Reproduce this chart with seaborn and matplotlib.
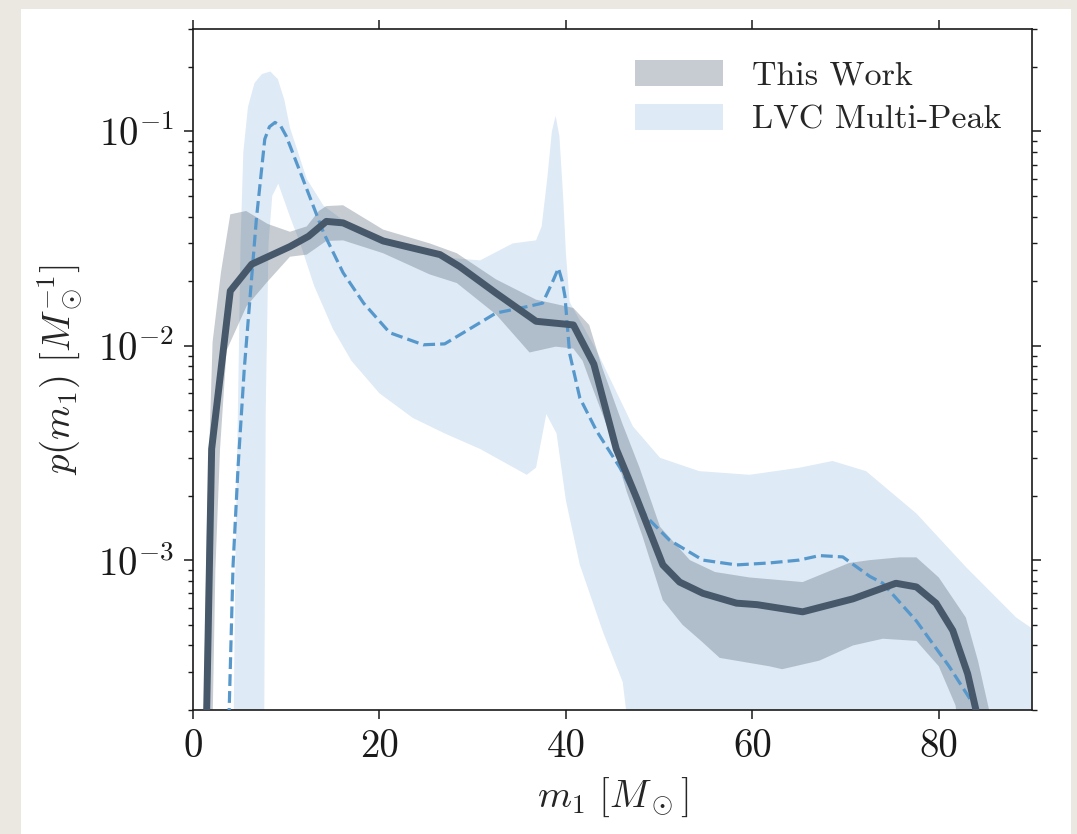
import numpy as np
import matplotlib
matplotlib.use("Agg")
import matplotlib.pyplot as plt
import seaborn as sns
from matplotlib.patches import Patch, Rectangle

# ---------------- data ----------------
# "This Work" median curve
tw_x = [1.4, 2.0, 4.0, 6.3, 10.4, 12.4, 14.3, 16.1, 20.4, 26.5, 28.6, 32.5, 36.8, 40.8,
        43.0, 45.4, 47.6, 50.4, 52.2, 54.7, 58.3, 60.5, 65.4, 70.8, 75.4, 77.6, 79.7,
        81.5, 83.1, 84.5]
tw_y = [1.4e-4, 3.3e-3, 0.018, 0.024, 0.029, 0.0324, 0.038, 0.0374, 0.0308, 0.0266, 0.0234,
        0.0176, 0.013, 0.0125, 0.0082, 3.3e-3, 1.94e-3, 9.5e-4, 7.9e-4, 7.0e-4, 6.3e-4,
        6.2e-4, 5.74e-4, 6.6e-4, 7.8e-4, 7.5e-4, 6.3e-4, 4.7e-4, 2.95e-4, 1.6e-4]

# "This Work" credible band
tw_up_x = [1.05, 1.5, 2.1, 3.0, 4.0, 5.7, 8.0, 10.4, 12.2, 13.5, 14.3, 16.1, 20.4, 25.4, 28.3,
           32.5, 36.8, 40.8, 42.5, 43.9, 46.0, 47.9, 50.1, 53.3, 56.0, 59.7, 65.4, 70.4,
           72.6, 75.8, 77.6, 80.0, 82.9, 84.2, 85.4, 85.8]
tw_up_y = [1e-4, 1.5e-3, 0.0104, 0.022, 0.041, 0.0425, 0.037, 0.034, 0.036, 0.0425, 0.0448,
           0.0452, 0.0348, 0.030, 0.027, 0.0204, 0.0164, 0.015, 0.0125, 7.9e-3, 4.4e-3,
           2.7e-3, 1.43e-3, 1.0e-3, 8.8e-4, 8.3e-4, 7.9e-4, 9.7e-4, 1.0e-3, 1.03e-3,
           1.03e-3, 8.3e-4, 5.4e-4, 3.4e-4, 2.0e-4, 1.2e-4]
tw_lo_x = [2.0, 2.4, 2.9, 3.6, 5.75, 7.9, 10.4, 12.2, 14.3, 16.1, 20.4, 25.4, 28.3, 32.5,
           36.1, 38.9, 40.8, 41.8, 42.5, 44.7, 46.5, 48.2, 50.4, 52.5, 54.5, 56.5, 61.8,
           63.2, 67.2, 70.8, 74.0, 77.6, 80.0, 81.8, 82.5]
tw_lo_y = [1e-4, 9e-4, 3.3e-3, 9.5e-3, 0.0153, 0.0197, 0.026, 0.0266, 0.0308, 0.031, 0.027,
           0.0215, 0.0196, 0.014, 0.0093, 0.0099, 0.0097, 0.0085, 7.0e-3, 3.9e-3, 2.1e-3,
           1.3e-3, 6.5e-4, 5.0e-4, 4.2e-4, 3.5e-4, 3.2e-4, 3.1e-4, 3.4e-4, 4.0e-4, 4.3e-4,
           4.2e-4, 3.2e-4, 2.1e-4, 1.2e-4]

# "LVC Multi-Peak" median curve (dashed)
lvc_x = [3.85, 4.3, 4.85, 5.5, 6.8, 7.7, 8.2, 8.8, 9.4, 10.0, 11.8, 14.0, 16.1, 18.3, 21.1,
         24.7, 27.0, 29.0, 32.5, 36.1, 37.5, 38.6, 39.2, 39.6, 39.9, 40.4, 41.5, 43.3,
         45.8, 48.6, 51.1, 54.7, 58.3, 61.8, 65.0, 67.2, 69.7, 72.6, 74.0, 77.6, 81.1,
         83.8, 84.3]
lvc_y = [1.8e-4, 9.5e-4, 2.8e-3, 7.8e-3, 0.039, 0.092, 0.105, 0.11, 0.106, 0.095, 0.0597,
         0.0337, 0.0219, 0.0158, 0.0115, 0.0101, 0.0102, 0.0115, 0.0142, 0.0153, 0.0158,
         0.020, 0.023, 0.020, 0.017, 0.0092, 5.7e-3, 4.0e-3, 2.7e-3, 1.6e-3, 1.24e-3,
         1.0e-3, 9.5e-4, 9.7e-4, 1.0e-3, 1.05e-3, 1.035e-3, 8.4e-4, 7.8e-4, 5.2e-4,
         3.2e-4, 2.1e-4, 1.8e-4]

# "LVC Multi-Peak" credible band
lvc_up_x = [4.3, 4.55, 4.85, 5.1, 5.4, 5.9, 6.6, 7.4, 8.3, 9.1, 9.8, 10.4, 12.2, 14.0,
            17.0, 20.0, 26.0, 30.8, 34.3, 36.8, 37.4, 38.0, 38.5, 38.9, 39.3, 39.7, 40.0,
            40.4, 42.9, 43.6, 47.2, 50.1, 54.3, 59.7, 65.1, 68.6, 72.2, 77.6, 82.9, 88.3,
            90.0]
lvc_up_y = [1e-4, 1e-3, 6e-3, 0.03, 0.08, 0.13, 0.168, 0.185, 0.19, 0.175, 0.14,
            0.104, 0.06, 0.045, 0.036, 0.031, 0.026, 0.025, 0.030, 0.031, 0.036, 0.06, 0.10,
            0.118, 0.095, 0.05, 0.027, 0.016, 0.0102, 8.9e-3, 4.2e-3, 3.0e-3, 2.6e-3,
            2.5e-3, 2.7e-3, 2.9e-3, 2.6e-3, 1.65e-3, 9.3e-4, 5.4e-4, 4.8e-4]
lvc_lo_x = [4.3, 7.5, 7.8, 8.1, 8.5, 9.15, 10.4, 11.5, 13.0, 15.0, 17.0, 20.0, 23.6, 27.0,
            30.8, 35.8, 36.8, 37.9, 39.0, 40.0, 41.5, 44.0, 46.1, 46.8, 90.0]
lvc_lo_y = [1e-5, 1e-5, 5e-3, 0.03, 0.05, 0.057, 0.040, 0.030, 0.019, 0.012, 8.5e-3,
            6.0e-3, 4.6e-3, 3.9e-3, 3.3e-3, 2.5e-3, 2.7e-3, 4.8e-3, 3.9e-3, 1.9e-3,
            9.5e-4, 4.6e-4, 2.7e-4, 1.5e-4, 1e-5]

x_ticks = [0, 20, 40, 60, 80]
legend_labels = ["This Work", "LVC Multi-Peak"]

# ---------------- style ----------------
sns.set_style("ticks")
plt.rcParams.update({
    "font.family": "serif",
    "font.serif": ["cmr10"],
    "mathtext.fontset": "cm",
    "axes.formatter.use_mathtext": True,
    "font.size": 28,
    "axes.linewidth": 1.2,
    "axes.edgecolor": "#1a1a1a",
    "xtick.color": "#1a1a1a",
    "ytick.color": "#1a1a1a",
})

W, H = 1077, 834
fig = plt.figure(figsize=(W / 100, H / 100), dpi=100)
fig.patch.set_facecolor("#ebe7e1")
fig.add_artist(Rectangle((21 / W, 0), (1071 - 21) / W, (834 - 9) / H,
                         transform=fig.transFigure, facecolor="white",
                         edgecolor="none", zorder=-10))
ax = fig.add_axes([193 / W, 1 - 710 / H, (1032 - 193) / W, (710 - 29) / H])
ax.set_facecolor("white")

dark = "#46586a"
light = "#deeaf5"
dash_c = "#5698cb"

# bands
ax.fill(np.r_[lvc_up_x, lvc_lo_x[::-1]], np.r_[lvc_up_y, lvc_lo_y[::-1]],
        color=light, lw=0, zorder=1)
ax.fill(np.r_[tw_up_x, tw_lo_x[::-1]], np.r_[tw_up_y, tw_lo_y[::-1]],
        color=dark, alpha=0.3, lw=0, zorder=2)

# lines
sns.lineplot(x=lvc_x, y=lvc_y, ax=ax, color=dash_c, lw=2.3, linestyle="--",
             sort=False, estimator=None, zorder=3)
sns.lineplot(x=tw_x, y=tw_y, ax=ax, color=dark, lw=5.0, sort=False,
             estimator=None, zorder=4)

ax.set_yscale("log")
ax.set_xlim(0, 90)
ax.set_ylim(2e-4, 0.3)
ax.set_xticks(x_ticks)
ax.set_xticklabels([str(t) for t in x_ticks])

ax.tick_params(which="both", direction="out", top=True, right=True,
               labeltop=False, labelright=False)
ax.tick_params(which="major", length=6.5, width=1.1, pad=7)
ax.tick_params(which="minor", length=3.6, width=1.0)

ax.set_xlabel(r"$m_1\ [M_\odot]$", labelpad=8)
ax.set_ylabel(r"$p(m_1)\ [M_\odot^{-1}]$", labelpad=10)

handles = [Patch(facecolor=dark, alpha=0.3, edgecolor="none"),
           Patch(facecolor=light, edgecolor="none")]
ax.legend(handles, legend_labels, loc="upper right", frameon=False,
          handlelength=2.6, handleheight=0.8, fontsize=24.5, handletextpad=0.85,
          labelspacing=0.4, borderaxespad=0.5)

fig.savefig("out.png", dpi=100, facecolor=fig.get_facecolor())
